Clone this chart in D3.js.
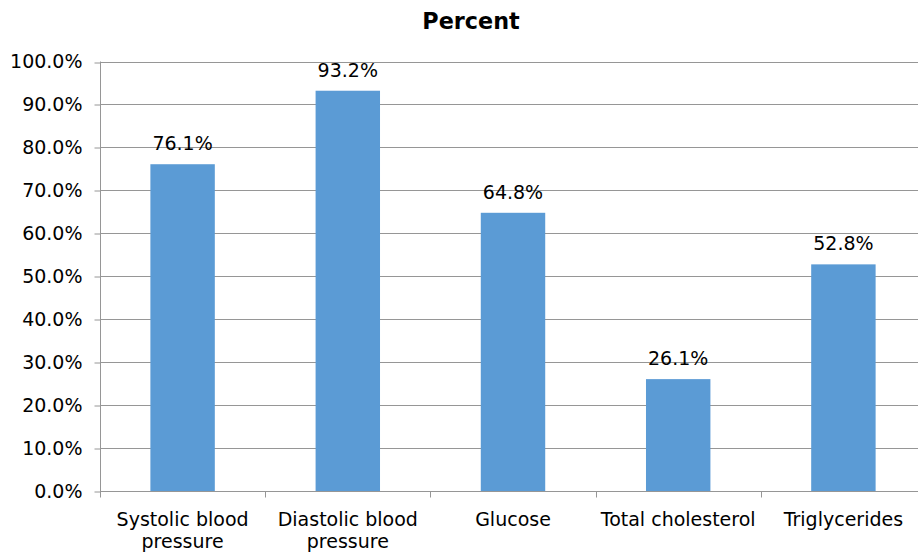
<!DOCTYPE html>
<html>
<head>
<meta charset="utf-8">
<script src="https://cdn.jsdelivr.net/npm/d3@7"></script>
<style>
  html, body { margin: 0; padding: 0; background: #fff; }
  svg { display: block; font-family: Verdana, "DejaVu Sans", sans-serif; }
</style>
</head>
<body>
<svg id="chart" width="918" height="555"></svg>
<script>
// Share of participants by measure
const categories = [
  ["Systolic blood", "pressure"],
  ["Diastolic blood", "pressure"],
  ["Glucose"],
  ["Total cholesterol"],
  ["Triglycerides"]
];
const values = [76.1, 93.2, 64.8, 26.1, 52.8];
const yTicks = [0, 10, 20, 30, 40, 50, 60, 70, 80, 90, 100];
const title = "Percent";

const svg = d3.select("#chart");
const plotLeft = 100, plotRight = 926, plotTop = 61.5, plotBottom = 491.3;
const labelSize = 19;

const x = d3.scaleBand()
  .domain(d3.range(categories.length))
  .range([plotLeft, plotRight])
  .paddingInner(0.61)
  .paddingOuter(0.305);

const y = d3.scaleLinear().domain([0, 100]).range([plotBottom, plotTop]);

// title
svg.append("text")
  .attr("x", 471).attr("y", 29)
  .attr("text-anchor", "middle")
  .attr("font-weight", "bold")
  .attr("font-size", 22.3)
  .attr("fill", "#000")
  .text(title);

// horizontal gridlines
svg.append("g").selectAll("line")
  .data(yTicks.filter(d => d > 0))
  .join("line")
  .attr("x1", plotLeft).attr("x2", plotRight)
  .attr("y1", d => Math.round(y(d)) + 0.5)
  .attr("y2", d => Math.round(y(d)) + 0.5)
  .attr("stroke", "#969696").attr("stroke-width", 1);

// y axis
const yAxis = d3.axisLeft(y)
  .tickValues(yTicks)
  .tickFormat(d => d.toFixed(1) + "%")
  .tickSize(6).tickPadding(12);
const gy = svg.append("g")
  .attr("transform", `translate(${plotLeft + 0.5},0)`)
  .call(yAxis);
gy.select(".domain").attr("stroke", "#969696").attr("d", `M0,${plotTop}V${plotBottom}`);
gy.selectAll(".tick line").attr("stroke", "#969696")
  .attr("transform", function(d) { return `translate(0,${Math.round(y(d)) + 0.5 - y(d)})`; });
gy.selectAll(".tick text")
  .attr("font-size", labelSize).attr("fill", "#000")
  .attr("font-family", "Verdana, 'DejaVu Sans', sans-serif");

// bars
svg.append("g").selectAll("rect")
  .data(values)
  .join("rect")
  .attr("x", (d, i) => x(i))
  .attr("width", x.bandwidth())
  .attr("y", d => y(d))
  .attr("height", d => y(0) - y(d))
  .attr("fill", "#5B9BD5");

// x axis baseline and category boundary ticks
const step = x.step();
const boundaries = d3.range(categories.length + 1).map(i => plotLeft + i * step);
const yb = Math.round(plotBottom) + 0.5;
svg.append("line")
  .attr("x1", plotLeft).attr("x2", plotRight)
  .attr("y1", yb).attr("y2", yb)
  .attr("stroke", "#969696");
svg.append("g").selectAll("line")
  .data(boundaries)
  .join("line")
  .attr("x1", d => Math.round(d) + 0.5).attr("x2", d => Math.round(d) + 0.5)
  .attr("y1", yb).attr("y2", yb + 6)
  .attr("stroke", "#969696");

// category labels
const labels = svg.append("g").selectAll("text")
  .data(categories)
  .join("text")
  .attr("text-anchor", "middle")
  .attr("font-size", labelSize)
  .attr("fill", "#000")
  .attr("x", (d, i) => x(i) + x.bandwidth() / 2)
  .attr("y", 526);
labels.selectAll("tspan")
  .data(d => d)
  .join("tspan")
  .attr("x", function() { return this.parentNode.getAttribute("x"); })
  .attr("dy", (d, i) => i === 0 ? 0 : 22)
  .text(d => d);

// value labels
svg.append("g").selectAll("text")
  .data(values)
  .join("text")
  .attr("text-anchor", "middle")
  .attr("font-size", labelSize)
  .attr("fill", "#000")
  .attr("x", (d, i) => x(i) + x.bandwidth() / 2)
  .attr("y", d => y(d) - 14)
  .text(d => d.toFixed(1) + "%");
</script>
</body>
</html>
